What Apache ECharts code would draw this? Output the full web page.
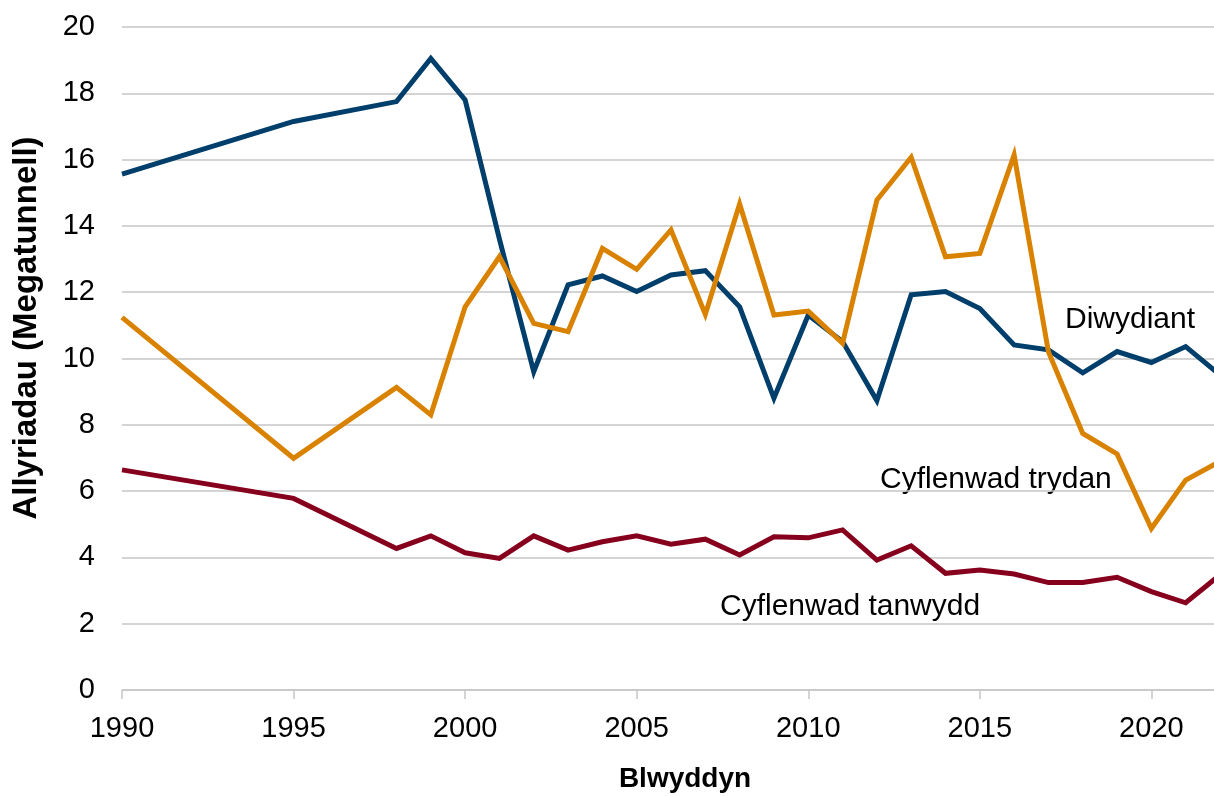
<!DOCTYPE html>
<html>
<head>
<meta charset="utf-8">
<script src="https://cdn.jsdelivr.net/npm/echarts@6/dist/echarts.min.js"></script>
<style>
  html, body { margin: 0; padding: 0; background: #fff; }
  #chart { width: 1214px; height: 796px; }
</style>
</head>
<body>
<div id="chart"></div>
<script>
// blynyddoedd
var years = [1990, 1995, 1998, 1999, 2000, 2001, 2002, 2003, 2004, 2005, 2006, 2007, 2008, 2009,
  2010, 2011, 2012, 2013, 2014, 2015, 2016, 2017, 2018, 2019, 2020, 2021, 2022];
// Diwydiant
var diwydiant = [15.56, 17.15, 17.75, 19.05, 17.8, 13.6, 9.6, 12.22, 12.49, 12.02, 12.52, 12.65, 11.56, 8.8,
  11.31, 10.51, 8.73, 11.92, 12.02, 11.51, 10.41, 10.26, 9.57, 10.21, 9.88, 10.36, 9.5];
// Cyflenwad trydan
var trydan = [11.24, 6.99, 9.13, 8.3, 11.56, 13.07, 11.06, 10.81, 13.32, 12.69, 13.88, 11.33, 14.66, 11.31,
  11.43, 10.46, 14.78, 16.07, 13.07, 13.17, 16.14, 10.2, 7.74, 7.12, 4.87, 6.33, 6.9];
// Cyflenwad tanwydd
var tanwydd = [6.64, 5.78, 4.27, 4.65, 4.14, 3.97, 4.65, 4.22, 4.47, 4.65, 4.4, 4.55, 4.07, 4.62,
  4.59, 4.83, 3.92, 4.35, 3.52, 3.62, 3.5, 3.24, 3.24, 3.4, 2.97, 2.63, 3.47];
var yTicks = [0, 2, 4, 6, 8, 10, 12, 14, 16, 18, 20];

var font = 'Liberation Sans, Arial, sans-serif';

function pairs(vals) {
  return years.map(function (y, i) { return [y, vals[i]]; });
}

var myChart = echarts.init(document.getElementById('chart'));
myChart.setOption({
  animation: false,
  grid: { left: 122, right: -6, top: 27, bottom: 106, containLabel: false, outerBoundsMode: 'none' },
  xAxis: {
    type: 'value',
    min: 1990,
    max: 2022,
    interval: 5,
    axisLine: { show: true, onZero: false, lineStyle: { color: '#c6c6c6', width: 1.5 } },
    axisTick: { show: true, length: 9, lineStyle: { color: '#c6c6c6', width: 1.5 } },
    axisLabel: {
      fontFamily: font, fontSize: 29, color: '#000', margin: 24,
      showMaxLabel: false,
      formatter: function (v) { return v % 5 === 0 ? String(v) : ''; }
    },
    splitLine: { show: false }
  },
  yAxis: {
    type: 'value',
    min: yTicks[0],
    max: yTicks[yTicks.length - 1],
    interval: 2,
    axisLine: { show: false },
    axisTick: { show: false },
    axisLabel: { fontFamily: font, fontSize: 29, color: '#000', margin: 27 },
    splitLine: { lineStyle: { color: '#c6c6c6', width: 1.5 } }
  },
  graphic: [
    {
      type: 'text', x: 27, y: 328, rotation: Math.PI / 2,
      style: { text: 'Allyriadau (Megatunnell)', font: 'bold 33px ' + font, fill: '#000', align: 'center', verticalAlign: 'middle' }
    },
    {
      type: 'text', x: 685, y: 779,
      style: { text: 'Blwyddyn', font: 'bold 28px ' + font, fill: '#000', align: 'center', verticalAlign: 'middle' }
    },
    {
      type: 'text', x: 1065, y: 320,
      style: { text: 'Diwydiant', font: '30px ' + font, fill: '#000', align: 'left', verticalAlign: 'middle' }
    },
    {
      type: 'text', x: 880, y: 480,
      style: { text: 'Cyflenwad trydan', font: '30px ' + font, fill: '#000', align: 'left', verticalAlign: 'middle' }
    },
    {
      type: 'text', x: 720, y: 607,
      style: { text: 'Cyflenwad tanwydd', font: '30px ' + font, fill: '#000', align: 'left', verticalAlign: 'middle' }
    }
  ],
  series: [
    {
      name: 'Diwydiant', type: 'line', data: pairs(diwydiant), showSymbol: false,
      lineStyle: { color: '#003e6b', width: 5, join: 'miter' }
    },
    {
      name: 'Cyflenwad trydan', type: 'line', data: pairs(trydan), showSymbol: false,
      lineStyle: { color: '#d98200', width: 5, join: 'miter' }
    },
    {
      name: 'Cyflenwad tanwydd', type: 'line', data: pairs(tanwydd), showSymbol: false,
      lineStyle: { color: '#86001e', width: 5, join: 'miter' }
    }
  ]
});
window.addEventListener('resize', function () {
  myChart.resize();
});
</script>
</body>
</html>
